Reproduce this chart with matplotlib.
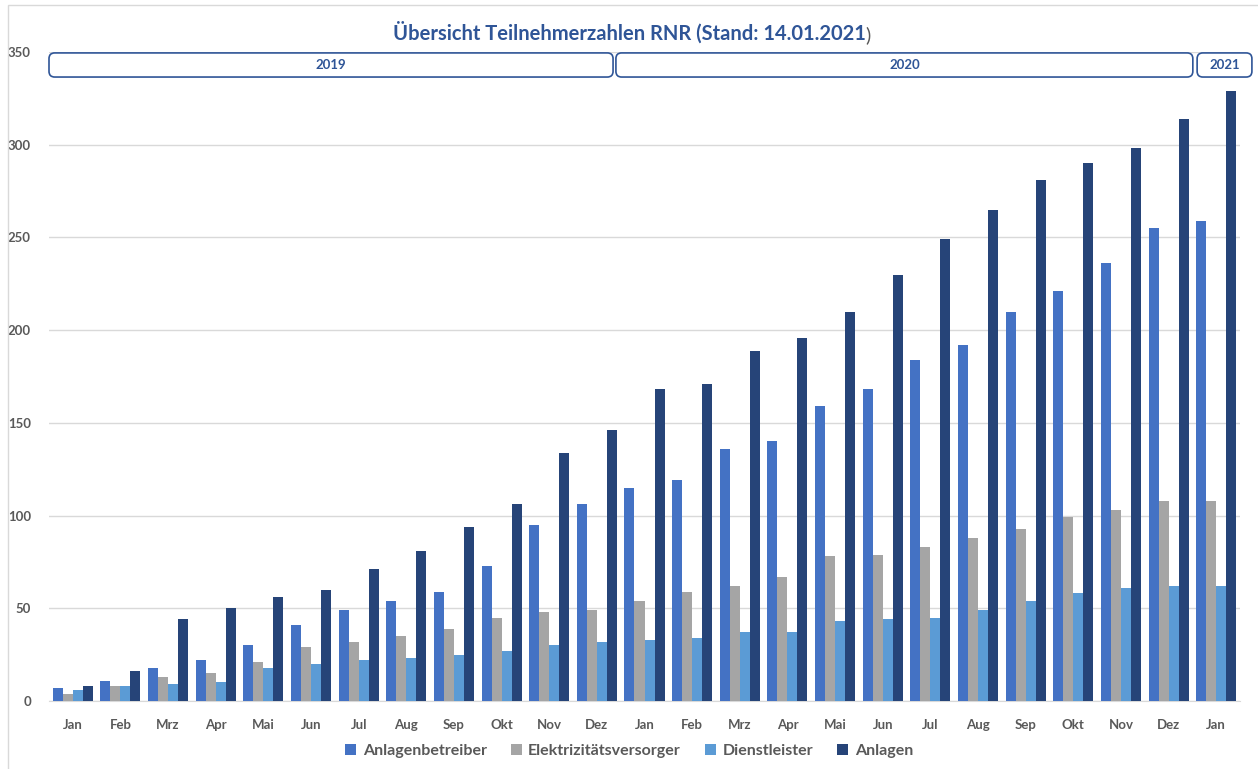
import numpy as np
import matplotlib
matplotlib.use("Agg")
import matplotlib.pyplot as plt
from matplotlib.patches import FancyBboxPatch, Rectangle, Patch

plt.rcParams['font.family'] = ['Lato', 'DejaVu Sans']

# Monate Jan 2019 .. Jan 2021
months = ["Jan", "Feb", "Mrz", "Apr", "Mai", "Jun", "Jul", "Aug", "Sep", "Okt", "Nov", "Dez",
          "Jan", "Feb", "Mrz", "Apr", "Mai", "Jun", "Jul", "Aug", "Sep", "Okt", "Nov", "Dez",
          "Jan"]
years = ["2019", "2020", "2021"]

anlagenbetreiber = [7, 11, 18, 22, 30, 41, 49, 54, 59, 73, 95, 106,
                    115, 119, 136, 140, 159, 168, 184, 192, 210, 221, 236, 255, 259]
elektrizitaetsversorger = [4, 8, 13, 15, 21, 29, 32, 35, 39, 45, 48, 49,
                           54, 59, 62, 67, 78, 79, 83, 88, 93, 99, 103, 108, 108]
dienstleister = [6, 8, 9, 10, 18, 20, 22, 23, 25, 27, 30, 32,
                 33, 34, 37, 37, 43, 44, 45, 49, 54, 58, 61, 62, 62]
anlagen = [8, 16, 44, 50, 56, 60, 71, 81, 94, 106, 134, 146,
           168, 171, 189, 196, 210, 230, 249, 265, 281, 290, 298, 314, 329]

series = [("Anlagenbetreiber", anlagenbetreiber, "#4472C4"),
          ("Elektrizitätsversorger", elektrizitaetsversorger, "#A5A5A5"),
          ("Dienstleister", dienstleister, "#5B9BD5"),
          ("Anlagen", anlagen, "#264478")]

blue = "#2F5597"
grey = "#595959"

fig = plt.figure(figsize=(12.58, 7.69), dpi=100)
ax = fig.add_axes([49/1258, 1-701/769, (1240-49)/1258, (701-52)/769])

x = np.arange(len(months))
w = 0.21
for k, (name, vals, col) in enumerate(series):
    ax.bar(x + (k-1.5)*w, vals, width=w, color=col, label=name, zorder=3)

ax.set_xlim(-0.5, len(months)-0.5)
ax.set_ylim(0, 350)
ax.set_yticks(range(0, 351, 50))
ax.grid(axis='y', color="#D9D9D9", linewidth=1, zorder=0)
ax.set_xticks(x)
ax.set_xticklabels(months)
ax.tick_params(length=0, labelsize=9.5, labelcolor=grey)
ax.tick_params(axis='x', pad=13)
ax.tick_params(axis='y', pad=13)
for lab in ax.get_xticklabels() + ax.get_yticklabels():
    lab.set_fontweight('bold')
for s in ['top', 'right', 'left']:
    ax.spines[s].set_visible(False)
ax.spines['bottom'].set_color("#D9D9D9")

# Jahresboxen (Kanten in Datenkoordinaten)
px_x = 47.64
px_y = 649/350
box_edges = [(-0.5, 11.34), (11.40, 23.51), (23.60, 24.75)]
for yr, (x0, x1) in zip(years, box_edges):
    box = FancyBboxPatch((x0, 336.5), x1-x0, 13,
                         boxstyle="round,pad=0,rounding_size=0.12",
                         mutation_aspect=px_x/px_y,
                         facecolor="white", edgecolor=blue, linewidth=1.2,
                         clip_on=False, zorder=5)
    ax.add_patch(box)
    ax.text((x0+x1)/2, 343, yr, ha='center', va='center', color=blue,
            fontsize=9.5, fontweight='bold', zorder=6, clip_on=False)

# Titel
t = fig.text(0.5, 1-33/769, "Übersicht Teilnehmerzahlen RNR (Stand: 14.01.2021",
             ha='center', va='center', color=blue, fontsize=14.5, fontweight='bold')
ax.annotate(")", xy=(1, 0), xycoords=t, ha='left', va='bottom',
            color=grey, fontsize=14.5)

# Legende
handles = [Patch(facecolor=c, label=n) for n, _, c in series]
fig.legend(handles=handles, loc='center', bbox_to_anchor=(0.5, 1-751/769), ncol=4,
           frameon=False, handlelength=0.7, handleheight=0.7, handletextpad=0.4,
           columnspacing=1.5, prop={'size': 11.5, 'weight': 'bold'}, labelcolor=grey)

# Rahmen
fig.patches.append(Rectangle((8/1258, -0.05), 1.1, 1-5/769+0.05, transform=fig.transFigure,
                             fill=False, edgecolor="#D9D9D9", linewidth=1))

fig.savefig("out.png", dpi=100)
